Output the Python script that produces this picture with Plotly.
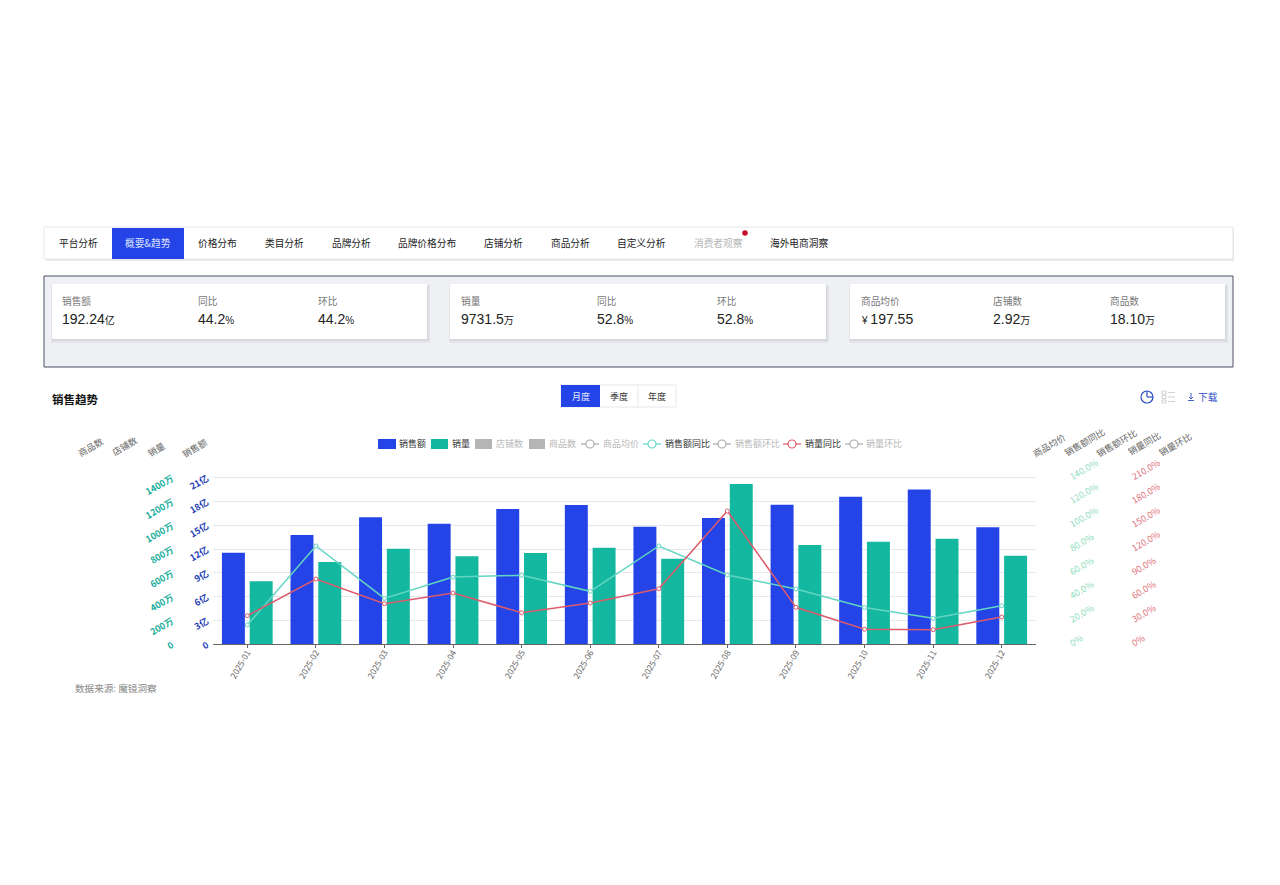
import plotly.graph_objects as go

months = ['2025-01', '2025-02', '2025-03', '2025-04', '2025-05', '2025-06',
          '2025-07', '2025-08', '2025-09', '2025-10', '2025-11', '2025-12']
sales = [11.55, 13.78, 16.0, 15.2, 17.05, 17.56, 14.83, 15.92, 17.6, 18.6, 19.5, 14.75]
volume = [529, 691, 803, 739, 767, 812, 719, 1347, 834, 862, 887, 744]
sales_yoy = [16.2, 82.6, 38.6, 56.5, 58.0, 44.5, 82.6, 58.2, 46.5, 31.0, 21.8, 32.4]
volume_yoy = [36.0, 82.3, 51.2, 64.7, 39.8, 52.0, 70.0, 168.0, 46.6, 18.9, 18.4, 34.4]

sales_ticks = [0, 3, 6, 9, 12, 15, 18, 21]
sales_labels = ['0', '3亿', '6亿', '9亿', '12亿', '15亿', '18亿', '21亿']
volume_ticks = [0, 200, 400, 600, 800, 1000, 1200, 1400]
volume_labels = ['0', '200万', '400万', '600万', '800万', '1000万', '1200万', '1400万']
sales_yoy_ticks = [0, 20, 40, 60, 80, 100, 120, 140]
sales_yoy_labels = ['0%', '20.0%', '40.0%', '60.0%', '80.0%', '100.0%', '120.0%', '140.0%']
volume_yoy_ticks = [0, 30, 60, 90, 120, 150, 180, 210]
volume_yoy_labels = ['0%', '30.0%', '60.0%', '90.0%', '120.0%', '150.0%', '180.0%', '210.0%']

tabs = ['平台分析', '概要&趋势', '价格分布', '类目分析', '品牌分析', '品牌价格分布',
        '店铺分析', '商品分析', '自定义分析', '消费者观察', '海外电商洞察']
tab_centers = [78, 148, 217, 284, 351, 427, 503, 570, 641, 718, 799]

card_labels = ['销售额', '同比', '环比', '销量', '同比', '环比', '商品均价', '店铺数', '商品数']
card_values = ['192.24', '44.2', '44.2', '9731.5', '52.8', '52.8', '197.55', '2.92', '18.10']
card_prefixes = ['', '', '', '', '', '', '¥', '', '']
card_units = ['亿', '%', '%', '万', '%', '%', '', '万', '万']
card_lefts = [62, 198, 318, 461, 597, 717, 861, 993, 1110]

WIDTH, HEIGHT = 1280, 885
FONT = 'Noto Sans CJK SC'
BLUE = '#2444e8'
TEAL = '#14b8a0'
LINE_TEAL = '#62d6c2'
LINE_RED = '#dc5a6c'


def px(x):
    return x / WIDTH


def py(y):
    return 1 - y / HEIGHT


def rect(fig, x0, y0, x1, y1, fill, line=None, width=1):
    fig.add_shape(type='rect', xref='paper', yref='paper',
                  x0=px(x0), x1=px(x1), y0=py(y0), y1=py(y1),
                  fillcolor=fill, line=dict(color=line, width=width if line else 0),
                  layer='below')


def seg(fig, x0, y0, x1, y1, color, width=1):
    fig.add_shape(type='line', xref='paper', yref='paper',
                  x0=px(x0), x1=px(x1), y0=py(y0), y1=py(y1),
                  line=dict(color=color, width=width), layer='below')


def circle(fig, cx, cy, r, fill, line=None, width=1):
    fig.add_shape(type='circle', xref='paper', yref='paper',
                  x0=px(cx - r), x1=px(cx + r), y0=py(cy - r), y1=py(cy + r),
                  fillcolor=fill, line=dict(color=line, width=width if line else 0),
                  layer='above')


def label(fig, x, y, text, size=9.7, color='#333333', anchor='center', angle=0, weight=None):
    fig.add_annotation(xref='paper', yref='paper', x=px(x), y=py(y), text=text,
                       showarrow=False, xanchor=anchor, yanchor='middle',
                       textangle=angle, borderpad=0, borderwidth=0,
                       font=dict(family=FONT, size=size, color=color, weight=weight))


fig = go.Figure()

fig.add_trace(go.Bar(x=months, y=sales, name='销售额', marker=dict(color=BLUE, line_width=0),
                     width=0.335, offset=-0.37, yaxis='y'))
fig.add_trace(go.Bar(x=months, y=volume, name='销量', marker=dict(color=TEAL, line_width=0),
                     width=0.335, offset=0.035, yaxis='y2'))
fig.add_trace(go.Scatter(x=months, y=sales_yoy, name='销售额同比', mode='lines+markers', yaxis='y3',
                         line=dict(color=LINE_TEAL, width=1.5),
                         marker=dict(size=4, color='white', line=dict(color=LINE_TEAL, width=1))))
fig.add_trace(go.Scatter(x=months, y=volume_yoy, name='销量同比', mode='lines+markers', yaxis='y4',
                         line=dict(color=LINE_RED, width=1.5),
                         marker=dict(size=4, color='white', line=dict(color=LINE_RED, width=1))))

# page furniture
rect(fig, 46, 229, 1234, 261, '#e6e8ec')
rect(fig, 44, 227, 1233, 259, 'white', '#e4e6ea')
rect(fig, 112, 228, 184, 259, BLUE)
for name, cx in zip(tabs, tab_centers):
    color = '#222222'
    if name == '概要&趋势':
        color = '#dfe5ff'
    elif name == '消费者观察':
        color = '#b5b5b5'
    label(fig, cx, 243.5, name, color=color)
circle(fig, 745, 233, 2.8, '#c8102e')

rect(fig, 44, 276, 1233, 367, '#eef0f4', '#4a5060', 1)
for x0, x1 in [(52, 427), (450, 826), (850, 1225)]:
    rect(fig, x0 - 1, 285, x1 + 3, 343, '#e2e4e9')
    rect(fig, x0, 285, x1 + 1.5, 341, '#d6d8de')
    rect(fig, x0, 284, x1, 339, 'white')
for left, name, prefix, value, unit in zip(card_lefts, card_labels, card_prefixes, card_values, card_units):
    label(fig, left, 300.5, name, color='#777777', anchor='left')
    text = value + (f'<span style="font-size:10px">{unit}</span>' if unit else '')
    if prefix:
        text = f'<span style="font-size:10px">{prefix} </span>' + text
    fig.add_annotation(xref='paper', yref='paper', x=px(left - 1), y=py(319), text=text,
                       showarrow=False, xanchor='left', yanchor='middle', borderpad=0,
                       font=dict(family='Liberation Sans, ' + FONT, size=14, color='#222222'))

label(fig, 52, 399, '销售趋势', size=11.5, color='#111111', anchor='left', weight='bold')

rect(fig, 561, 385, 676, 407, 'white', '#dfe1e5', 0.8)
seg(fig, 638, 385, 638, 407, '#dfe1e5', 0.8)
rect(fig, 561, 385, 600, 407, BLUE)
label(fig, 580.5, 396, '月度', size=9, color='#e6ebff')
label(fig, 619, 396, '季度', size=9, color='#333333')
label(fig, 657, 396, '年度', size=9, color='#333333')

# toolbar icons
circle(fig, 1147, 397, 6, 'rgba(0,0,0,0)', '#2f4fc8', 1.2)
seg(fig, 1147, 391, 1147, 397, '#2f4fc8', 1.2)
seg(fig, 1147, 397, 1153, 397, '#2f4fc8', 1.2)
for top in [391, 395.5, 400]:
    rect(fig, 1162, top, 1166, top + 3, 'white', '#c8c8c8', 0.8)
    seg(fig, 1168, top + 1.5, 1175, top + 1.5, '#c8c8c8', 0.8)
seg(fig, 1191, 393, 1191, 399, '#2f4fc8', 0.9)
seg(fig, 1189, 397, 1191, 399, '#2f4fc8', 0.9)
seg(fig, 1193, 397, 1191, 399, '#2f4fc8', 0.9)
seg(fig, 1188, 400.5, 1194, 400.5, '#2f4fc8', 0.9)
label(fig, 1208, 396.5, '下载', color='#2f4fc8')

label(fig, 75, 687.5, '数据来源: 魔镜洞察', size=9.6, color='#888888', anchor='left')

# axis names
for cx, cy, name in [(90, 447, '商品数'), (124, 446, '店铺数'), (156, 449, '销量'), (194, 448, '销售额'),
                     (1049, 445, '商品均价'), (1084, 442, '销售额同比'), (1116, 443, '销售额环比'),
                     (1144, 443, '销量同比'), (1175, 444, '销量环比')]:
    label(fig, cx, cy, name, size=9, color='#666666', angle=-30)

# legend
for x0, x1, text_x, name, color, on in [(378, 396, 399, '销售额', BLUE, True),
                                         (431, 448, 452, '销量', TEAL, True),
                                         (475, 492, 496, '店铺数', '#b5b5b5', False),
                                         (529, 545, 549, '商品数', '#b5b5b5', False)]:
    rect(fig, x0, 439, x1, 449, color)
    label(fig, text_x, 443.5, name, size=9, color='#333333' if on else '#b8b8b8', anchor='left')
for x0, text_x, name, color, on in [(581, 603, '商品均价', '#aaaaaa', False),
                                    (643, 665, '销售额同比', LINE_TEAL, True),
                                    (713, 735, '销售额环比', '#aaaaaa', False),
                                    (783, 805, '销量同比', LINE_RED, True),
                                    (845, 866, '销量环比', '#aaaaaa', False)]:
    seg(fig, x0, 444, x0 + 18, 444, color, 1.2)
    circle(fig, x0 + 9, 444, 4, 'white', color, 1.2)
    label(fig, text_x, 443.5, name, size=9, color='#333333' if on else '#b8b8b8', anchor='left')

axis_left = px(213)
axis_right = px(1036)
# a little headroom above the top tick, plotly drops gridlines sitting on the range end
domain = [py(644.3), py(475.3)]

fig.update_layout(
    width=WIDTH, height=HEIGHT, autosize=False,
    margin=dict(l=0, r=0, t=0, b=0, autoexpand=False),
    paper_bgcolor='white', plot_bgcolor='rgba(0,0,0,0)',
    showlegend=False,
    font=dict(family=FONT),
    xaxis=dict(domain=[axis_left, axis_right], type='category', categoryorder='array',
               categoryarray=months, range=[-0.5, 11.5], showgrid=False, zeroline=False,
               showline=True, linecolor='#666666', linewidth=1,
               ticks='outside', ticklen=3, tickcolor='#666666', tickangle=-60,
               ticklabelstandoff=-4,
               tickfont=dict(size=8.5, color='#666666', family=FONT)),
    yaxis=dict(domain=domain, range=[0, 21.3], tickvals=sales_ticks, ticktext=sales_labels,
               tickangle=-30, gridcolor='#e7e8ec', gridwidth=1, zeroline=False, showline=False,
               ticks='', ticklabelstandoff=5,
               tickfont=dict(size=9, color='#1f3fb5', family=FONT, weight='bold')),
    yaxis2=dict(domain=domain, range=[0, 1420], tickvals=volume_ticks, ticktext=volume_labels,
                overlaying='y', anchor='free', position=px(172), side='left', showgrid=False,
                zeroline=False, showline=False, ticks='', tickangle=-30,
                tickfont=dict(size=9, color='#18ad9c', family=FONT, weight='bold')),
    yaxis3=dict(domain=domain, range=[0, 142], tickvals=sales_yoy_ticks, ticktext=sales_yoy_labels,
                overlaying='y', anchor='free', position=px(1069), side='right', showgrid=False,
                zeroline=False, showline=False, ticks='', tickangle=-30,
                tickfont=dict(size=9, color='#8fdcc0', family=FONT)),
    yaxis4=dict(domain=domain, range=[0, 213], tickvals=volume_yoy_ticks, ticktext=volume_yoy_labels,
                overlaying='y', anchor='free', position=px(1131), side='right', showgrid=False,
                zeroline=False, showline=False, ticks='', tickangle=-30,
                tickfont=dict(size=9, color='#e0707a', family=FONT)),
)

fig.write_html("out.html", config=dict(displayModeBar=False),
               post_script="document.body.style.margin='0';document.body.style.overflow='hidden';")
